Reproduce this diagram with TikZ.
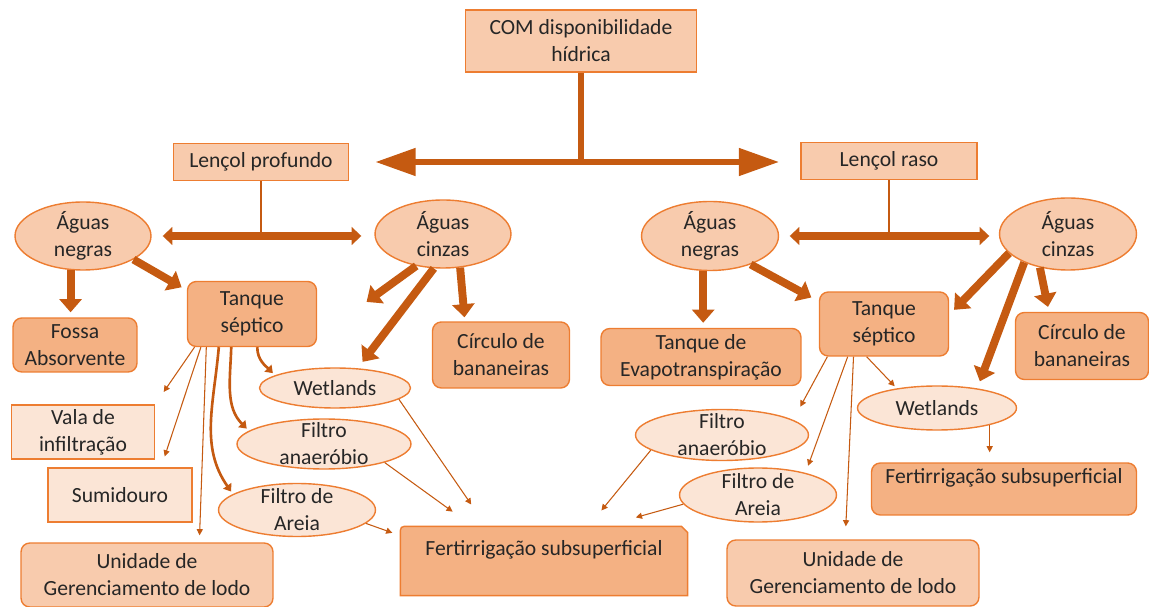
\documentclass[tikz,border=0pt]{standalone}
\usepackage{fontspec}
\setmainfont{Carlito}
\usetikzlibrary{shapes.geometric, arrows.meta, backgrounds}
\definecolor{darkor}{HTML}{C55A11}
\definecolor{edgeor}{HTML}{ED7D31}
\definecolor{peachmid}{HTML}{F4B183}
\definecolor{peachlight}{HTML}{F8CBAD}
\definecolor{peachpale}{HTML}{FBE5D6}
\tikzset{
  every node/.style={font=\fontsize{12.3}{15.3}\selectfont, text=black!85, align=center,
    inner sep=0pt, draw=edgeor, line width=0.8pt},
  sqbox/.style={rectangle, fill=peachlight},
  palebox/.style={rectangle, fill=peachpale},
  rbox/.style={rectangle, rounded corners=5pt, fill=peachmid},
  oval/.style={ellipse, inner ysep=-8pt, fill=peachlight},
  paleoval/.style={ellipse, inner ysep=-8pt, fill=peachpale},
  fat/.style={darkor, line width=4.5pt, -{Triangle[length=7.5pt,width=12.5pt]}},
  duo/.style={darkor, line width=4pt, {Triangle[length=5.5pt,width=10pt]}-{Triangle[length=5.5pt,width=10pt]}},
  bigduo/.style={darkor, line width=3.7pt, {Triangle[length=23pt,width=15pt]}-{Triangle[length=23pt,width=15pt]}},
  bar/.style={darkor, line width=3.7pt},
  tie/.style={darkor, line width=0.7pt},
  slim/.style={darkor, line width=0.6pt, -{Triangle[length=3.5pt,width=3.5pt]}},
  curv/.style={darkor, line width=1.5pt, -{Triangle[length=4pt,width=5.5pt]}}
}

\begin{document}
\begin{tikzpicture}[x=0.02cm, y=-0.02cm]
    \useasboundingbox (0,0) rectangle (1149,607);
    \node[sqbox, minimum width=4.62cm, minimum height=1.24cm] (com) at (581,41) {COM disponibilidade\\hídrica};
    \node[sqbox, minimum width=3.5cm, minimum height=0.74cm] (profundo) at (261,162) {Lençol profundo};
    \node[sqbox, minimum width=3.52cm, minimum height=0.74cm] (raso) at (889,161) {Lençol raso};
    \node[oval, minimum width=2.72cm, minimum height=1.36cm] (negrasL) at (83,236) {Águas\\negras};
    \node[oval, minimum width=2.72cm, minimum height=1.36cm] (cinzasL) at (443,234) {Águas\\cinzas};
    \node[oval, minimum width=2.74cm, minimum height=1.38cm] (negrasR) at (710,236) {Águas\\negras};
    \node[oval, minimum width=2.74cm, minimum height=1.44cm] (cinzasR) at (1068,234) {Águas\\cinzas};
    \node[rbox, minimum width=2.58cm, minimum height=1.3cm] (septicoL) at (252,314) {Tanque\\séptico};
    \node[rbox, minimum width=2.48cm, minimum height=1.08cm] (fossa) at (75,345) {Fossa\\Absorvente};
    \node[rbox, minimum width=2.74cm, minimum height=1.32cm] (circuloL) at (501,355) {Círculo de\\bananeiras};
    \node[paleoval, minimum width=3.02cm, minimum height=0.8cm] (wetL) at (335,388) {Wetlands};
    \node[paleoval, minimum width=3.48cm, minimum height=1.0cm] (anaerL) at (324,444) {Filtro\\anaeróbio};
    \node[paleoval, minimum width=3.14cm, minimum height=1.06cm] (areiaL) at (297,510) {Filtro de\\Areia};
    \node[palebox, minimum width=2.86cm, minimum height=1.08cm] (vala) at (83,432) {Vala de\\infiltração};
    \node[palebox, minimum width=2.88cm, minimum height=1.08cm] (sumid) at (120,495) {Sumidouro};
    \node[rbox, fill=peachlight, minimum width=5.04cm, minimum height=1.28cm] (lodoL) at (147,575) {Unidade de\\Gerenciamento de lodo};
    \node[draw=none, minimum width=5.72cm, minimum height=1.36cm] (fertL) at (544,561) {Fertirrigação subsuperficial\\\mbox{}};
    \node[rbox, minimum width=4.0cm, minimum height=1.14cm] (evapo) at (701,357) {Tanque de\\Evapotranspiração};
    \node[rbox, minimum width=2.58cm, minimum height=1.28cm] (septicoR) at (884,324) {Tanque\\séptico};
    \node[rbox, minimum width=2.66cm, minimum height=1.34cm] (circuloR) at (1082,346) {Círculo de\\bananeiras};
    \node[paleoval, minimum width=3.18cm, minimum height=0.88cm] (wetR) at (937,408) {Wetlands};
    \node[paleoval, minimum width=3.46cm, minimum height=1.02cm] (anaerR) at (722,435) {Filtro\\anaeróbio};
    \node[paleoval, minimum width=3.14cm, minimum height=1.08cm] (areiaR) at (758,495) {Filtro de\\Areia};
    \node[rbox, minimum width=5.3cm, minimum height=1.04cm] (fertR) at (1004,489) {Fertirrigação subsuperficial\\\mbox{}};
    \node[rbox, fill=peachlight, minimum width=5.04cm, minimum height=1.32cm] (lodoR) at (853,573) {Unidade de\\Gerenciamento de lodo};
    \begin{scope}[on background layer]
        \draw[edgeor, line width=0.8pt, fill=peachmid] (fertL.south west) -- ([yshift=-5pt]fertL.north west)
            .. controls (fertL.north west) .. ([xshift=5pt]fertL.north west) -- ([xshift=-3.5pt]fertL.north east)
            -- ([yshift=-3.5pt]fertL.north east) -- (fertL.south east) -- cycle;
    \end{scope}
    \draw[bar] (com.south) -- (com.south |- profundo.east);
    \draw[bigduo, shorten <=0.52cm, shorten >=0.42cm] (profundo.east) -- (profundo.east -| raso.west);
    \draw[tie] (profundo.south) -- (profundo.south |- negrasL.east);
    \draw[duo, shorten <=0.22cm, shorten >=0.26cm] (negrasL.east) -- (negrasL.east -| cinzasL.west);
    \draw[tie] (raso.south) -- (raso.south |- negrasR.east);
    \draw[duo, shorten <=0.21cm, shorten >=0.19cm] (negrasR.east) -- (negrasR.east -| cinzasR.west);
    \draw[fat, shorten >=0.1cm] (negrasL.250) -- (negrasL.250 |- fossa.north);
    \draw[fat, shorten >=0.12cm] (negrasL.-25) -- (septicoL.160);
    \draw[fat, shorten >=1.22cm] (cinzasL.230) -- (septicoL.-20);
    \draw[fat, shorten >=0.16cm] (cinzasL.255) -- (wetL.41);
    \draw[fat, shorten >=0.08cm] (cinzasL.-63) -- (circuloL.137);
    \draw[fat, shorten >=0.1cm] (negrasR.259) -- (negrasR.259 |- evapo.north);
    \draw[fat, shorten >=0.17cm] (negrasR.-35) -- (septicoR.161);
    \draw[fat, shorten >=0.14cm] (cinzasR.198) -- (septicoR.8);
    \draw[fat, shorten >=0.15cm] (cinzasR.213) -- (wetR.26);
    \draw[fat, shorten >=0.1cm] (cinzasR.230) -- (circuloR.134);
    \draw[slim, shorten >=0.3cm] (septicoL.210) -- (vala.north east);
    \draw[slim, shorten >=0.23cm] (septicoL.213) -- (sumid.34);
    \draw[slim, shorten >=0.14cm] (septicoL.216) -- (lodoL.32);
    \draw[curv, shorten >=0.06cm] (septicoL.225) to[out=265, in=125] (areiaL.166);
    \draw[curv, shorten >=0.06cm] (septicoL.238) to[out=268, in=135] (anaerL.170);
    \draw[curv, shorten >=0.06cm] (septicoL.-81) to[out=270, in=135] (wetL.168);
    \draw[slim, shorten >=0.53cm] (wetL.-10) -- (fertL.149);
    \draw[slim, shorten >=0.5cm] (anaerL.-17) -- (fertL.154);
    \draw[slim, shorten >=0.17cm] (areiaL.-11) -- (fertL.170);
    \draw[slim, shorten >=0.41cm] (anaerR.192) -- (fertL.38);
    \draw[slim, shorten >=0.66cm] (areiaR.187) -- (fertL.30);
    \draw[slim, shorten >=0.3cm] (septicoR.210) -- (anaerR.12);
    \draw[slim, shorten >=0.15cm] (septicoR.222) -- (areiaR.25);
    \draw[slim, shorten >=0.26cm] (septicoR.227) -- (lodoR.103);
    \draw[slim, shorten >=0.06cm] (septicoR.242) -- (wetR.154);
    \draw[slim, shorten >=0.2cm] (wetR.-18) -- (wetR.-18 |- fertR.north);
\end{tikzpicture}
\end{document}
